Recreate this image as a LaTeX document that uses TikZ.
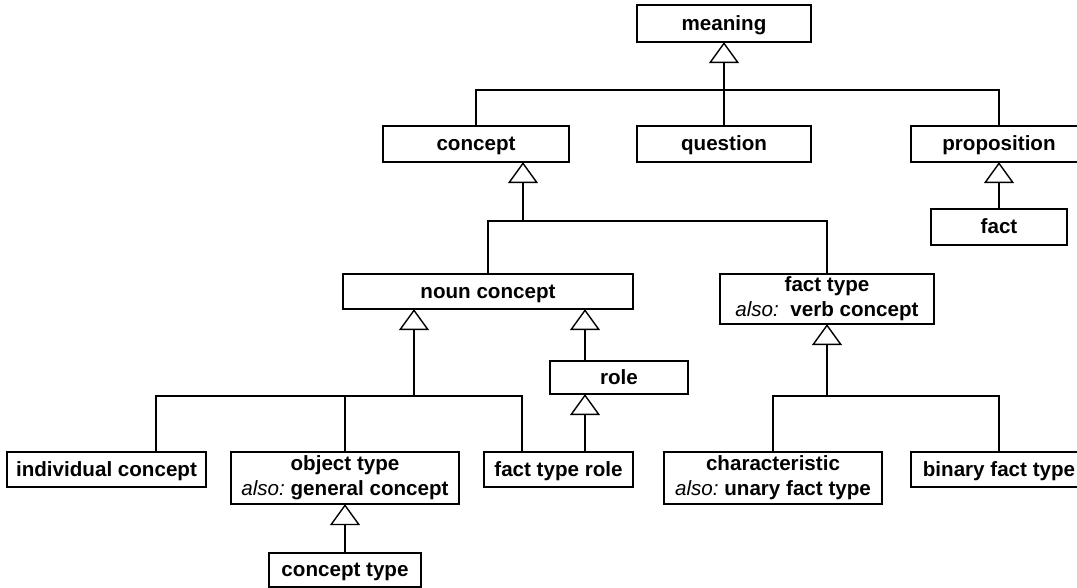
\documentclass[tikz,border=0pt]{standalone}
\usepackage{fontspec}
\setmainfont{Liberation Sans}
\usetikzlibrary{arrows.meta,calc}
\tikzset{
  box/.style={draw=black, line width=0.75pt, fill=white, inner sep=0pt,
    font=\fontsize{10.3}{12.6}\selectfont\bfseries, align=center},
  oneline/.style={text height=6.6pt, text depth=0pt},
  twoline/.style={yshift=1pt},
  thinline/.style={draw=black, line width=0.75pt},
  stem/.style={draw=black, line width=1.05pt},
  gen/.style={-{Triangle[open, length=10.5pt, width=15pt, line width=0.7pt]}, shorten >=-0.3pt}
}
\newcommand\umlbox[7][]{\node[box, #1, minimum width={(#5-#3)*0.5pt}, minimum height={(#6-#4)*0.5pt}] (#2) at ({(#3+#5)/2},{(#4+#6)/2}) {#7};}
\newcommand\alsotxt{{\mdseries\itshape also:}}
\begin{document}
\begin{tikzpicture}[x=0.5pt, y=-0.5pt]
\useasboundingbox (0,0) rectangle (1077,588);
% boxes
\umlbox[oneline]{meaning}{637}{5}{811}{42}{meaning}
\umlbox[oneline]{concept}{383}{126}{569}{162}{concept}
\umlbox[oneline]{question}{637}{126}{811}{162}{question}
\umlbox[oneline]{prop}{911}{126}{1087}{162}{proposition}
\umlbox[oneline]{fact}{931}{209}{1067}{245}{fact}
\umlbox[oneline]{nc}{343}{274}{633}{309}{noun concept}
\umlbox{ft}{720}{274}{934}{324}{fact type\\\alsotxt\ \ verb concept}
\umlbox[oneline]{role}{550}{361}{688}{394}{role}
\umlbox[oneline]{ind}{7}{452}{206}{487}{individual concept}
\umlbox{ot}{231}{452}{459}{504}{object type\\\alsotxt\ general concept}
\umlbox[oneline]{ftr}{484}{452}{633}{487}{fact type role}
\umlbox{ch}{664}{452}{882}{504}{characteristic\\\alsotxt\ unary fact type}
\umlbox[oneline]{bft}{911}{452}{1087}{487}{binary fact type}
\umlbox[oneline]{ct}{269}{553}{421}{587}{concept type}
% junctions
\coordinate (j1) at (724,90);
\coordinate (j2) at (523,221);
\coordinate (j3) at (414,396);
\coordinate (j4) at (827,396);
\coordinate (indtop) at ($(ind.north)+(49.5,0)$);
\coordinate (ftrtop) at ($(ftr.north)+(-36.5,0)$);
\coordinate (rolebot) at ($(role.south)+(-34,0)$);
\coordinate (roletop) at ($(role.north)+(-34,0)$);
% meaning level
\draw[thinline] (concept.north) |- (prop.north |- j1) -- (prop.north);
\draw[thinline] (question.north) -- (j1);
\draw[stem,gen] (j1) -- (meaning.south);
% proposition - fact
\draw[stem,gen] (fact.north) -- (prop.south);
% concept level
\draw[thinline] (nc.north) |- (ft.north |- j2) -- (ft.north);
\draw[stem,gen] (j2) -- (j2 |- concept.south);
% noun concept level
\draw[thinline] (indtop) |- (ftrtop |- j3) -- (ftrtop);
\draw[thinline] (ot.north) -- (ot.north |- j3);
\draw[stem,gen] (j3) -- (j3 |- nc.south);
% role
\draw[stem,gen] (roletop) -- (roletop |- nc.south);
\draw[stem,gen] (ftrtop -| rolebot) -- (rolebot);
% object type - concept type
\draw[stem,gen] (ct.north) -- (ot.south);
% fact type level
\draw[thinline] (ch.north) |- (bft.north |- j4) -- (bft.north);
\draw[stem,gen] (j4) -- (ft.south);
\end{tikzpicture}
\end{document}
